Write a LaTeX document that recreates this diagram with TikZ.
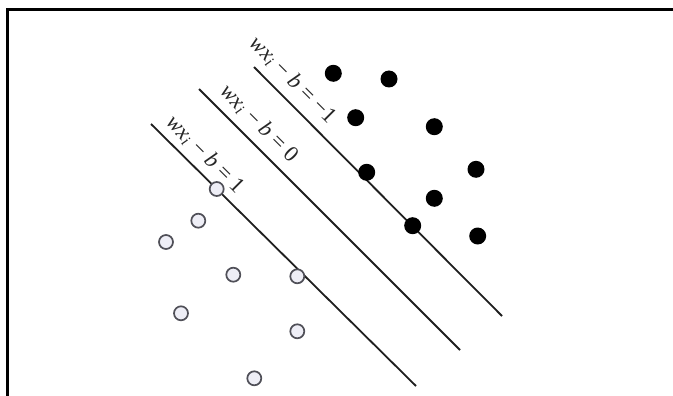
\documentclass[tikz,border=0pt]{standalone}
\usepackage{fontspec}
\setmainfont{Liberation Serif}
\newcommand{\lab}[1]{\itshape wx\textsubscript{i}\upshape\ \textminus\ \itshape b\upshape\ =\ #1}
\begin{document}
\begin{tikzpicture}[x=1pt,y=-1pt,
  openpt/.style={circle,draw={rgb,255:red,80;green,80;blue,88},fill={rgb,255:red,238;green,238;blue,246},line width=1.7pt,minimum size=14pt,inner sep=0pt},
  filledpt/.style={circle,fill=black,minimum size=17pt,inner sep=0pt},
  hyper/.style={line width=1.8pt,black!88},
  lbl/.style={rotate=-45,inner sep=0pt,text=black!85,font=\fontsize{22.5}{26}\selectfont},
  frame/.style={line width=3pt,black}
]
\useasboundingbox (0,0) rectangle (673,396);
% frame
\coordinate (fl) at (7,396);
\coordinate (fc) at (7,10);
\coordinate (fr) at (673,10);
\draw[frame] (fl) -- (fc) -- (fr);
% hyperplanes
\coordinate (a1) at (254,67);  \coordinate (b1) at (502,316);
\coordinate (a2) at (199,89);  \coordinate (b2) at (460,350);
\coordinate (a3) at (151,124); \coordinate (b3) at (416,386);
\draw[hyper] (a1) -- (b1);
\draw[hyper] (a2) -- (b2);
\draw[hyper] (a3) -- (b3);
% labels
\node[lbl] (l1) at (293,80) {\lab{\textminus 1}};
\node[lbl] (l2) at (259,124) {\lab{0}};
\node[lbl] (l3) at (205,155) {\lab{1}};
% open points
\node[openpt] (o1) at (216.7,189) {};
\node[openpt] (o2) at (198.3,220.7) {};
\node[openpt] (o3) at (166,242) {};
\node[openpt] (o4) at (233.3,274.7) {};
\node[openpt] (o5) at (297.3,276.3) {};
\node[openpt] (o6) at (181,313.3) {};
\node[openpt] (o7) at (297.3,331.3) {};
\node[openpt] (o8) at (254.3,378.3) {};
% filled points
\node[filledpt] (f1) at (333.3,73.3) {};
\node[filledpt] (f2) at (389,79) {};
\node[filledpt] (f3) at (355.7,117.7) {};
\node[filledpt] (f4) at (434.3,126.7) {};
\node[filledpt] (f5) at (366.7,172.3) {};
\node[filledpt] (f6) at (476,169.3) {};
\node[filledpt] (f7) at (434.3,198.3) {};
\node[filledpt] (f8) at (412.7,225.7) {};
\node[filledpt] (f9) at (477.7,236) {};
\end{tikzpicture}
\end{document}
